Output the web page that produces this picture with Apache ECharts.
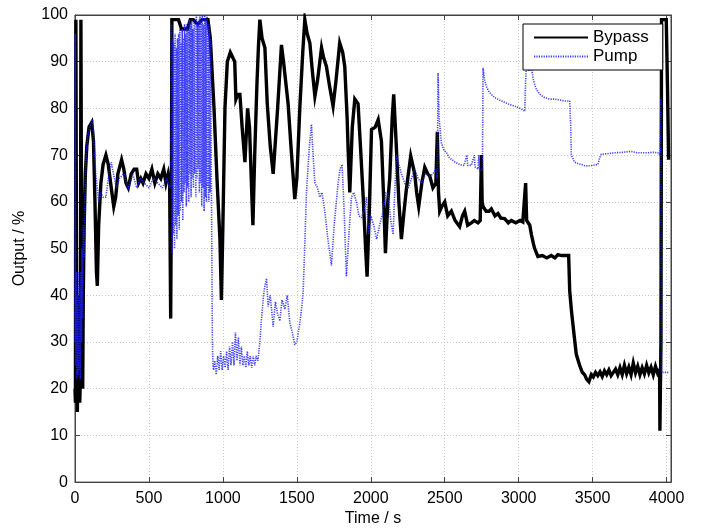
<!DOCTYPE html>
<html>
<head>
<meta charset="utf-8">
<script src="https://cdn.jsdelivr.net/npm/echarts@6/dist/echarts.min.js"></script>
<style>
html,body{margin:0;padding:0;background:#fff;}
#chart{width:703px;height:532px;}
</style>
</head>
<body>
<div id="chart"></div>
<script>
// ---- data (time in s, output in %) ----
var xTicks = [0, 500, 1000, 1500, 2000, 2500, 3000, 3500, 4000];
var yTicks = [0, 10, 20, 30, 40, 50, 60, 70, 80, 90, 100];
var seriesNames = ['Bypass', 'Pump'];

var bypassT = [0,3,6,9,12,16,20,24,28,32,36,40,44,47,52,56,62,70,80,95,113,125,135,145,151,160,175,190,209,225,245,262,275,290,315,330,345,360,380,400,417,430,445,460,480,500,520,540,560,580,600,615,630,640,647,652,655,700,720,760,780,800,830,860,899,915,940,960,980,990,1000,1014,1030,1050,1065,1080,1088,1100,1115,1130,1149,1167,1180,1195,1203,1215,1230,1240,1250,1265,1284,1300,1320,1340,1351,1370,1396,1410,1441,1460,1486,1500,1520,1540,1554,1570,1588,1605,1622,1640,1667,1680,1700,1720,1745,1765,1790,1810,1824,1840,1847,1858,1875,1892,1914,1930,1948,1965,1975,1990,2005,2030,2050,2072,2088,2099,2115,2128,2145,2155,2171,2190,2207,2225,2241,2270,2297,2310,2324,2345,2365,2385,2399,2420,2440,2450,2458,2466,2480,2500,2520,2545,2570,2601,2620,2635,2655,2680,2700,2725,2740,2748,2753,2759,2780,2800,2815,2840,2860,2880,2905,2930,2950,2980,3010,3028,3040,3047,3054,3063,3075,3086,3100,3108,3130,3160,3190,3220,3245,3265,3290,3320,3338,3345,3356,3367,3380,3390,3412,3430,3446,3460,3475,
 3491,3505,3520,3535,3550,3565,3580,3595,3610,3625,3640,3655,3670,3685,3700,3715,3730,3745,3760,3775,3790,3805,3820,3835,3850,3865,3880,3895,3910,3925,3940,3953,3955,3962,3966,3998,4006,4014];
var bypassV = [20,17,99,99,20,15,30,18,40,17,22,99,99,25,20,40,55,66,72,76,77,73,60,45,42,55,64,68,70,68,63,59,61,66,69,67,64,63,66,67,67,64,65,64,66,65,67,64,66,65,67,64,66,64,35,62,99,99,97,97,99,99,98,99,99,95,80,65,52,39,55,80,90,92,91,90,82,83,83,76,68.5,80,76,62,55,70,85,93,99,95,93,81,72,66,65.6,80,93.6,90,81,72,60.6,65,80,92,99,96,94,88,82.6,86,93,91,89,85,80.5,86,94,92,89,78,71,62,76,82,81,72,61.5,50,44,58,75.5,76,77.6,73,60,49,60,65,78,83,73,60,52,58,62.8,69.8,66,62,59,64,67.4,66,65.5,63,64,75,62,58,59,60,57,58,56,54.7,57,58,55,55.5,56,55.5,56,70,60,59,58,58,58.5,57,57.5,56.5,56.4,55.5,56,55.5,56,55.7,56,64,56,56,55,53,51,50,48.3,48.5,48,48.5,48,48.7,48.5,48.5,48.5,41,37,33.7,30,27.3,25,23.5,23,22,21.5,
 23,22.5,23.5,22.8,23.6,22.6,23.8,23,24,22.8,23.5,24.2,23,24.5,23,25,23.2,24.6,23,25.5,23.4,24.8,23,24.5,23.2,25,23.4,24.6,23,24.8,23.3,24,11,30,99,99,85,69];

var pumpT = [0,2,4,8,12,16,20,24,28,32,36,40,44,48,52,56,62,68,75,85,100,120,130,140,150,160,175,190,209,225,245,260,280,300,330,360,390,417,440,470,500,530,560,590,620,640,650,
 653,657,661,665,669,673,677,681,685,689,693,697,701,705,709,713,717,721,725,729,733,737,741,745,749,753,757,761,765,769,773,777,781,785,789,793,797,801,805,809,813,817,821,825,829,833,837,841,845,849,853,857,861,865,869,873,877,881,885,889,893,897,901,905,909,913,917,921,925,929,933,937,
 945,955,965,975,985,995,1005,1015,1025,1035,1045,1055,1065,1075,1085,1095,1105,1115,1125,1135,1145,1155,1165,1175,1185,1195,1205,1215,1225,1237,1250,1260,1275,1284,1295,1306,1320,1340,1355,1370,1385,1400,1419,1435,1453,1470,1486,1500,1520,1535,1543,1555,1565,1585,1599,1610,1622,1640,1655,1670,1689,1710,1734,1755,1779,1792,1806,1820,1835,1850,1869,1885,1903,1920,1937,1955,1971,1985,2000,2020,2039,2060,2083,2100,2117,2135,2151,2162,2173,2190,2207,2230,2252,2275,2297,2320,2342,2370,2399,2420,2440,2450,2455,2462,2477,2495,2511,2530,2550,2570,2600,2630,2650,2655,2680,2700,2705,2725,2730,2736,2755,2759,2770,2781,2800,2838,2870,2905,2940,2973,3010,3041,3047,3052,3070,3086,3100,3120,3145,3176,3210,3243,3280,3311,3345,3352,3356,3378,3400,3423,3450,3468,3500,3536,3548,3559,3600,3649,3700,3761,3800,3874,3910,3941,3955,3962,3966,3990,4020];
var pumpV = [30,96,25,45,22,40,23,45,24,42,22,45,30,50,35,55,48,62,70,74,76,77.6,72,66,63,60,62,61,61,65,68.5,66,63,65,66,62.8,66,63,65,64,63,65,64,63,65,63,64,
 98,49,95,53,94,50,96,55,93,52,95,57,96,54,97,58,94,60,97,56,95,62,98,64,96,59,98,63,97,60,99,66,98,61,99,65,97,63,99,66,98,61,100,65,98,67,99,62,100,64,99,59,100,63,98,58,100,61,99,60,100,63,98,60,97,62,95,70,50,30,25,24,
 26,23,27,24,28,24,27,24.5,28,24,29,25,30,25,32,26,31,25,29,25,27,24.5,28,25,27,24.5,27,25,27,26,30,34.5,40,42,43.6,37.6,40,33.3,38.6,36,34.5,39,37,40,34,32,29.4,30,34,38,41,52,62,72,76.6,70,64,63,61,62,58,52,46.4,56,64,67,68,58,44,52,61,62,60,57,56.6,58,61,53,57,55,52,55,58,62,61.8,56,53,62,70,68,66,64,62.8,65,67,65,64,66,65.5,66,67,65,87.6,78,72.7,71,70.6,69.5,69,68.5,68,67.8,70,67.8,67.8,70,67.5,67,70,66.5,67,88.7,86,84.7,83.5,82.3,81.8,81.3,80.8,80.5,80,79.4,86,89,88,88.7,86,84,83,82.3,82,82,81.8,81.6,81.6,76,70,68.5,68.2,68,67.7,67.7,67.8,68,69.5,70.2,70.3,70.5,70.6,70.8,70.5,70.5,70.6,70.5,70,82,23.5,23.5,23.5];

function pairs(t, v) { return t.map(function (x, i) { return [x, v[i]]; }); }

var font = 'Liberation Sans, Arial, sans-serif';
var chart = echarts.init(document.getElementById('chart'), null, {renderer: 'canvas'});
var axisColor = '#444';
var option = {
  animation: false,
  backgroundColor: '#fff',
  grid: {left: 75, right: 32, top: 15, bottom: 47, show: true, borderColor: axisColor, borderWidth: 1, backgroundColor: '#fff'},
  legend: {
    data: [
      {name: seriesNames[0]},
      {name: seriesNames[1]}
    ],
    orient: 'vertical',
    left: 523, top: 24,
    backgroundColor: '#fff',
    borderColor: '#000', borderWidth: 1, borderRadius: 0,
    padding: [5, 14, 5, 10],
    itemWidth: 54, itemHeight: 20, itemGap: 2,
    itemStyle: {opacity: 0},
    textStyle: {fontFamily: font, fontSize: 17, color: '#000'}
  },
  xAxis: [{
    type: 'value', min: 0, max: 4030, interval: 500,
    name: 'Time / s', nameLocation: 'middle', nameGap: 28,
    nameTextStyle: {fontFamily: font, fontSize: 16, color: '#000'},
    axisLine: {show: true, onZero: false, lineStyle: {color: axisColor}},
    axisTick: {show: true, inside: true, length: 5, lineStyle: {color: axisColor}},
    axisLabel: {fontFamily: font, fontSize: 16, color: '#000', margin: 8, showMaxLabel: false,
      formatter: function (v) { return xTicks.indexOf(v) >= 0 ? String(v) : ''; }},
    splitLine: {show: true, lineStyle: {color: '#c8c8c8', type: [1, 2], width: 1}}
  }, {
    type: 'value', min: 0, max: 4030, interval: 500, position: 'top',
    axisLine: {show: true, onZero: false, lineStyle: {color: axisColor}},
    axisTick: {show: true, inside: true, length: 5, lineStyle: {color: axisColor}},
    axisLabel: {show: false}, splitLine: {show: false}
  }],
  yAxis: [{
    type: 'value', min: 0, max: 100, interval: 10,
    name: 'Output / %', nameLocation: 'middle', nameGap: 47,
    nameTextStyle: {fontFamily: font, fontSize: 16, color: '#000'},
    axisLine: {show: true, onZero: false, lineStyle: {color: axisColor}},
    axisTick: {show: true, inside: true, length: 5, lineStyle: {color: axisColor}},
    axisLabel: {fontFamily: font, fontSize: 16, color: '#000', margin: 7,
      formatter: function (v) { return yTicks.indexOf(v) >= 0 ? String(v) : ''; }},
    splitLine: {show: true, lineStyle: {color: '#c8c8c8', type: [1, 2], width: 1}}
  }, {
    type: 'value', min: 0, max: 100, interval: 10, position: 'right',
    axisLine: {show: true, onZero: false, lineStyle: {color: axisColor}},
    axisTick: {show: true, inside: true, length: 5, lineStyle: {color: axisColor}},
    axisLabel: {show: false}, splitLine: {show: false}
  }],
  series: [{
    name: seriesNames[0], type: 'line', symbol: 'none', showSymbol: false,
    data: pairs(bypassT, bypassV),
    lineStyle: {color: '#000', width: 3.4, join: 'miter'},
    itemStyle: {color: '#000'}
  }, {
    name: seriesNames[1], type: 'line', symbol: 'none', showSymbol: false,
    data: pairs(pumpT, pumpV),
    lineStyle: {color: 'rgba(30,30,255,0.85)', width: 1.6, type: [1.2, 1.2]},
    itemStyle: {color: '#2a2aff'}
  }]
};
chart.setOption(option);
</script>
</body>
</html>
